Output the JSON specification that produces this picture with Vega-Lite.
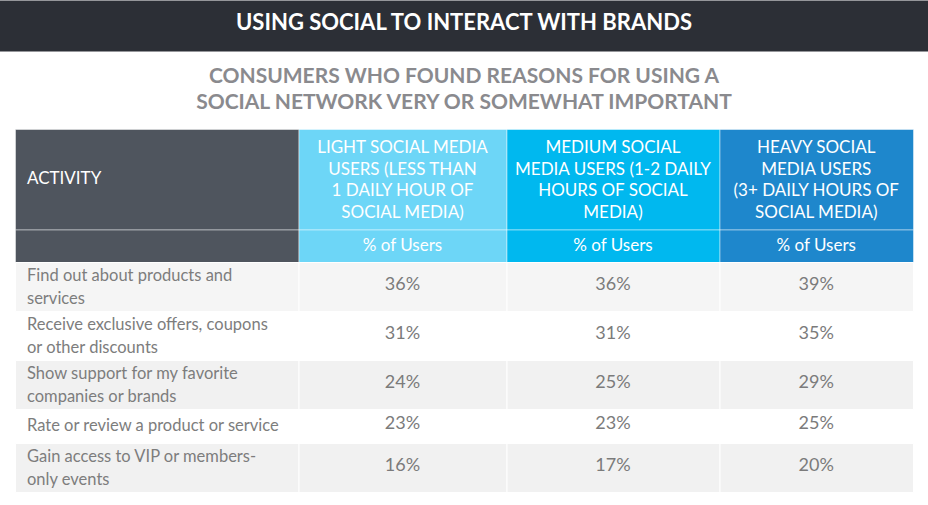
{
  "$schema": "https://vega.github.io/schema/vega-lite/v6.json",
  "width": 928,
  "height": 505,
  "padding": 0,
  "autosize": {"type": "none"},
  "background": "#ffffff",
  "config": {"view": {"stroke": null}},
  "datasets": {
    "titles": [
      {"row": -2, "text": "USING SOCIAL TO INTERACT WITH BRANDS"},
      {"row": -1, "text": ["CONSUMERS WHO FOUND REASONS FOR USING A", "SOCIAL NETWORK VERY OR SOMEWHAT IMPORTANT"]}
    ],
    "header": [
      {"row": 0, "col": 0, "text": "ACTIVITY"},
      {"row": 0, "col": 1, "text": ["LIGHT SOCIAL MEDIA", "USERS (LESS THAN", "1 DAILY HOUR OF", "SOCIAL MEDIA)"]},
      {"row": 0, "col": 2, "text": ["MEDIUM SOCIAL", "MEDIA USERS (1-2 DAILY", "HOURS OF SOCIAL", "MEDIA)"]},
      {"row": 0, "col": 3, "text": ["HEAVY SOCIAL", "MEDIA USERS", "(3+ DAILY HOURS OF", "SOCIAL MEDIA)"]},
      {"row": 1, "col": 0, "text": ""},
      {"row": 1, "col": 1, "text": "% of Users"},
      {"row": 1, "col": 2, "text": "% of Users"},
      {"row": 1, "col": 3, "text": "% of Users"}
    ],
    "body": [
      {"row": 2, "col": 0, "label": ["Find out about products and", "services"]},
      {"row": 2, "col": 1, "share": 0.36},
      {"row": 2, "col": 2, "share": 0.36},
      {"row": 2, "col": 3, "share": 0.39},
      {"row": 3, "col": 0, "label": ["Receive exclusive offers, coupons", "or other discounts"]},
      {"row": 3, "col": 1, "share": 0.31},
      {"row": 3, "col": 2, "share": 0.31},
      {"row": 3, "col": 3, "share": 0.35},
      {"row": 4, "col": 0, "label": ["Show support for my favorite", "companies or brands"]},
      {"row": 4, "col": 1, "share": 0.24},
      {"row": 4, "col": 2, "share": 0.25},
      {"row": 4, "col": 3, "share": 0.29},
      {"row": 5, "col": 0, "label": "Rate or review a product or service"},
      {"row": 5, "col": 1, "share": 0.23},
      {"row": 5, "col": 2, "share": 0.23},
      {"row": 5, "col": 3, "share": 0.25},
      {"row": 6, "col": 0, "label": ["Gain access to VIP or members-", "only events"]},
      {"row": 6, "col": 1, "share": 0.16},
      {"row": 6, "col": 2, "share": 0.17},
      {"row": 6, "col": 3, "share": 0.20}
    ]
  },
  "layer": [
    {
      "data": {"name": "titles"},
      "transform": [{"filter": "datum.row == -2"}],
      "mark": {"type": "rect", "color": "#2c2f36"},
      "encoding": {
        "y": {"field": "row", "type": "quantitative", "bin": {"step": 1, "extent": [-2, 7]},
              "scale": {"domain": [-2, -1, 0, 1, 2, 3, 4, 5, 6, 7], "range": [0, 51, 129, 229.5, 262, 311, 360, 409, 443, 492], "zero": false, "nice": false}, "axis": null}
      }
    },
    {
      "data": {"name": "titles"},
      "transform": [{"filter": "datum.row == -2"}],
      "mark": {"type": "text", "color": "#ffffff", "font": "Lato", "fontWeight": "bold", "fontSize": 22, "letterSpacing": 3, "baseline": "middle", "align": "center", "dy": -3},
      "encoding": {
        "y": {"field": "row", "type": "quantitative", "bin": {"step": 1, "extent": [-2, 7]}, "axis": null},
        "text": {"field": "text"}
      }
    },
    {
      "data": {"name": "titles"},
      "transform": [{"filter": "datum.row == -1"}],
      "mark": {"type": "text", "color": "#8a8a8e", "font": "Lato", "fontWeight": "bold", "fontSize": 21, "letterSpacing": 2.9, "lineHeight": 26, "baseline": "middle", "align": "center"},
      "encoding": {
        "y": {"field": "row", "type": "quantitative", "bin": {"step": 1, "extent": [-2, 7]}, "bandPosition": 0.335, "axis": null},
        "text": {"field": "text"}
      }
    },
    {
      "data": {"name": "header"},
      "mark": {"type": "rect", "stroke": "#ffffff", "strokeOpacity": 0.45, "strokeWidth": 1},
      "encoding": {
        "x": {"field": "col", "type": "quantitative", "bin": {"step": 1, "extent": [0, 4]},
              "scale": {"domain": [0, 1, 2, 3, 4], "range": [15, 298.5, 506.5, 719.5, 913], "zero": false, "nice": false}, "axis": null},
        "y": {"field": "row", "type": "quantitative", "bin": {"step": 1, "extent": [-2, 7]}, "axis": null},
        "color": {"field": "col", "type": "nominal", "scale": {"domain": [0, 1, 2, 3], "range": ["#4f555e", "#6dd6f7", "#00b8ef", "#1e87cc"]}, "legend": null}
      }
    },
    {
      "data": {"name": "header"},
      "transform": [{"filter": "datum.col > 0 && datum.row == 0"}],
      "mark": {"type": "text", "color": "#ffffff", "font": "Lato", "fontSize": 17, "letterSpacing": 1, "lineHeight": 21.7, "baseline": "middle", "align": "center"},
      "encoding": {
        "x": {"field": "col", "type": "quantitative", "bin": {"step": 1, "extent": [0, 4]}, "axis": null},
        "y": {"field": "row", "type": "quantitative", "bin": {"step": 1, "extent": [-2, 7]}, "bandPosition": 0.19, "axis": null},
        "text": {"field": "text"}
      }
    },
    {
      "data": {"name": "header"},
      "transform": [{"filter": "datum.col > 0 && datum.row == 1"}],
      "mark": {"type": "text", "color": "#ffffff", "font": "Lato", "fontSize": 17, "letterSpacing": 0.3, "baseline": "middle", "align": "center"},
      "encoding": {
        "x": {"field": "col", "type": "quantitative", "bin": {"step": 1, "extent": [0, 4]}, "axis": null},
        "y": {"field": "row", "type": "quantitative", "bin": {"step": 1, "extent": [-2, 7]}, "axis": null},
        "text": {"field": "text"}
      }
    },
    {
      "data": {"name": "header"},
      "transform": [{"filter": "datum.col == 0"}],
      "mark": {"type": "text", "color": "#ffffff", "font": "Lato", "fontSize": 17, "letterSpacing": 0.75, "baseline": "middle", "align": "left", "dx": 12},
      "encoding": {
        "x": {"field": "col", "type": "quantitative", "bin": {"step": 1, "extent": [0, 4]}, "bandPosition": 0, "axis": null},
        "y": {"field": "row", "type": "quantitative", "bin": {"step": 1, "extent": [-2, 7]}, "axis": null},
        "text": {"field": "text"}
      }
    },
    {
      "data": {"name": "body"},
      "mark": {"type": "rect", "stroke": "#ffffff", "strokeWidth": 1},
      "encoding": {
        "x": {"field": "col", "type": "quantitative", "bin": {"step": 1, "extent": [0, 4]}, "axis": null},
        "y": {"field": "row", "type": "quantitative", "bin": {"step": 1, "extent": [-2, 7]}, "axis": null},
        "fill": {"field": "row", "type": "nominal", "scale": {"domain": [2, 3, 4, 5, 6], "range": ["#f5f5f5", "#ffffff", "#f1f1f1", "#ffffff", "#f1f1f1"]}, "legend": null}
      }
    },
    {
      "data": {"name": "body"},
      "transform": [{"filter": "datum.col == 0 && isArray(datum.label)"}],
      "mark": {"type": "text", "color": "#7d7d7d", "font": "Lato", "fontSize": 16.5, "lineHeight": 23, "baseline": "middle", "align": "left", "dx": 12},
      "encoding": {
        "x": {"field": "col", "type": "quantitative", "bin": {"step": 1, "extent": [0, 4]}, "bandPosition": 0, "axis": null},
        "y": {"field": "row", "type": "quantitative", "bin": {"step": 1, "extent": [-2, 7]}, "bandPosition": 0.29, "axis": null},
        "text": {"field": "label"}
      }
    },
    {
      "data": {"name": "body"},
      "transform": [{"filter": "datum.col == 0 && !isArray(datum.label)"}],
      "mark": {"type": "text", "color": "#7d7d7d", "font": "Lato", "fontSize": 16.5, "baseline": "middle", "align": "left", "dx": 12},
      "encoding": {
        "x": {"field": "col", "type": "quantitative", "bin": {"step": 1, "extent": [0, 4]}, "bandPosition": 0, "axis": null},
        "y": {"field": "row", "type": "quantitative", "bin": {"step": 1, "extent": [-2, 7]}, "axis": null},
        "text": {"field": "label"}
      }
    },
    {
      "data": {"name": "body"},
      "transform": [{"filter": "datum.col > 0"}],
      "mark": {"type": "text", "color": "#7b7b7b", "font": "Lato", "fontSize": 18, "baseline": "middle", "align": "center", "dy": -2},
      "encoding": {
        "x": {"field": "col", "type": "quantitative", "bin": {"step": 1, "extent": [0, 4]}, "axis": null},
        "y": {"field": "row", "type": "quantitative", "bin": {"step": 1, "extent": [-2, 7]}, "axis": null},
        "text": {"field": "share", "type": "quantitative", "format": ".0%"}
      }
    }
  ]
}
